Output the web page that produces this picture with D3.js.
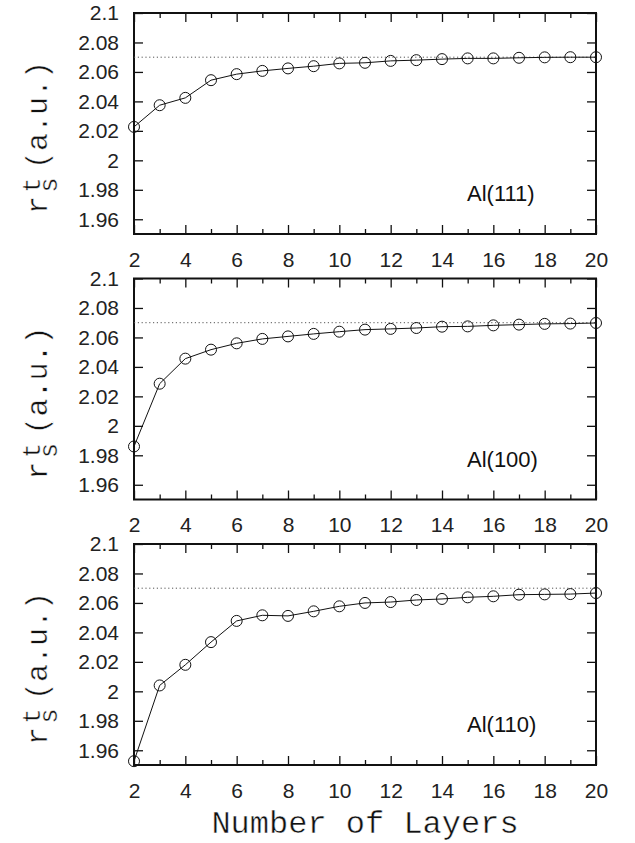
<!DOCTYPE html>
<html>
<head>
<meta charset="utf-8">
<script src="https://cdn.jsdelivr.net/npm/d3@7"></script>
<style>
  body { margin: 0; background: #fff; }
  svg { display: block; }
</style>
</head>
<body>
<div id="container"></div>
<script>
const w = 635;
const h = 843;

// data
const layers = [2, 3, 4, 5, 6, 7, 8, 9, 10, 11, 12, 13, 14, 15, 16, 17, 18, 19, 20];
const al111 = [2.0227, 2.0374, 2.0424, 2.0544, 2.0585, 2.0607, 2.0624, 2.0639, 2.0658, 2.0662,
               2.0675, 2.0680, 2.0687, 2.0692, 2.0692, 2.0696, 2.0699, 2.0700, 2.0700];
const al100 = [1.9860, 2.0286, 2.0456, 2.0517, 2.0560, 2.0590, 2.0607, 2.0624, 2.0639, 2.0653,
               2.0658, 2.0664, 2.0673, 2.0675, 2.0682, 2.0687, 2.0692, 2.0694, 2.0698];
const al110 = [1.9526, 2.0040, 2.0180, 2.0334, 2.0478, 2.0516, 2.0512, 2.0543, 2.0577, 2.0600,
               2.0606, 2.0620, 2.0627, 2.0638, 2.0645, 2.0656, 2.0658, 2.0660, 2.0667];
const panelNames = ['Al(111)', 'Al(100)', 'Al(110)'];
const bulkValue = 2.07;
const yTicks = [1.96, 1.98, 2, 2.02, 2.04, 2.06, 2.08, 2.1];
const xMajor = [2, 4, 6, 8, 10, 12, 14, 16, 18, 20];
const xMinor = [3, 5, 7, 9, 11, 13, 15, 17, 19];

const series = [al111, al100, al110];
const left = 134, right = 596;
const panelTops = [13, 278.5, 544];
const panelH = 221;
const mono = 'Liberation Mono, Courier New, monospace';
const sans = 'Liberation Sans, Arial, sans-serif';

const svg = d3.select('#container')
    .append('svg')
    .attr('width', w)
    .attr('height', h);

const scaleX = d3.scaleLinear().domain([2, 20]).range([left, right]);

// thin out the mono glyphs a bit so they look closer to Courier
const thin = sel => sel.attr('stroke', '#fff').attr('stroke-width', 0.45);

series.forEach((vals, p) => {
    const top = panelTops[p];
    const bot = top + panelH;
    const scaleY = d3.scaleLinear().domain([1.95, 2.1]).range([bot, top]);
    const g = svg.append('g');

    // ticks (all pointing inward)
    g.append('g')
        .attr('transform', `translate(0,${bot})`)
        .call(d3.axisBottom(scaleX).tickValues(xMajor).tickSize(-9).tickPadding(18).tickFormat(d3.format('d')));
    g.append('g')
        .attr('transform', `translate(0,${bot})`)
        .call(d3.axisBottom(scaleX).tickValues(xMinor).tickSize(-5).tickFormat(''));
    g.append('g')
        .attr('transform', `translate(0,${top})`)
        .call(d3.axisTop(scaleX).tickValues(xMajor).tickSize(-9).tickFormat(''));
    g.append('g')
        .attr('transform', `translate(0,${top})`)
        .call(d3.axisTop(scaleX).tickValues(xMinor).tickSize(-5).tickFormat(''));
    g.append('g')
        .attr('transform', `translate(${left},0)`)
        .call(d3.axisLeft(scaleY).tickValues(yTicks).tickSize(-9).tickPadding(15).tickFormat(d => String(d)));
    g.append('g')
        .attr('transform', `translate(${right},0)`)
        .call(d3.axisRight(scaleY).tickValues(yTicks).tickSize(-9).tickFormat(''));

    g.selectAll('.domain').remove();
    g.selectAll('.tick line').attr('stroke', '#111').attr('stroke-width', 1.3);
    g.selectAll('.tick text')
        .attr('font-family', sans)
        .attr('font-size', 21)
        .attr('fill', '#222');

    // frame
    g.append('rect')
        .attr('x', left).attr('y', top)
        .attr('width', right - left).attr('height', panelH)
        .attr('fill', 'none')
        .attr('stroke', '#111')
        .attr('stroke-width', 2);

    // bulk value reference
    g.append('line')
        .attr('x1', scaleX(2)).attr('x2', scaleX(20))
        .attr('y1', scaleY(bulkValue)).attr('y2', scaleY(bulkValue))
        .attr('stroke', '#555')
        .attr('stroke-width', 1)
        .attr('stroke-dasharray', '1.2,2.6');

    const line = d3.line()
        .x((d, i) => scaleX(layers[i]))
        .y(d => scaleY(d));

    g.append('path')
        .datum(vals)
        .attr('d', line)
        .attr('fill', 'none')
        .attr('stroke', '#111')
        .attr('stroke-width', 1);

    g.selectAll('circle')
        .data(vals)
        .enter()
        .append('circle')
        .attr('cx', (d, i) => scaleX(layers[i]))
        .attr('cy', d => scaleY(d))
        .attr('r', 5.5)
        .attr('fill', 'none')
        .attr('stroke', '#111')
        .attr('stroke-width', 1);

    g.append('text')
        .attr('x', 467)
        .attr('y', top + 188)
        .attr('font-family', sans)
        .attr('font-size', 22)
        .attr('fill', '#111')
        .text(panelNames[p]);

    // y label r_s^t (a.u.)
    const lab = g.append('g')
        .attr('transform', `translate(47,${top + 201}) rotate(-90)`)
        .attr('font-family', mono)
        .attr('fill', '#111');
    lab.append('text').attr('x', 0).attr('y', 0).attr('font-size', 30).text('r').call(thin);
    lab.append('text').attr('x', 29).attr('y', 10).attr('font-size', 25)
        .attr('text-anchor', 'middle').text('s').call(thin);
    lab.append('text').attr('x', 29).attr('y', -7).attr('font-size', 25)
        .attr('text-anchor', 'middle').text('t').call(thin);
    lab.append('text').attr('x', 45).attr('y', 0).attr('font-size', 30).text('(a.u.)').call(thin);
});

svg.append('text')
    .attr('x', (left + right) / 2)
    .attr('y', 833)
    .attr('text-anchor', 'middle')
    .attr('font-family', mono)
    .attr('font-size', 32)
    .attr('fill', '#111')
    .text('Number of Layers')
    .call(thin);
</script>
</body>
</html>
